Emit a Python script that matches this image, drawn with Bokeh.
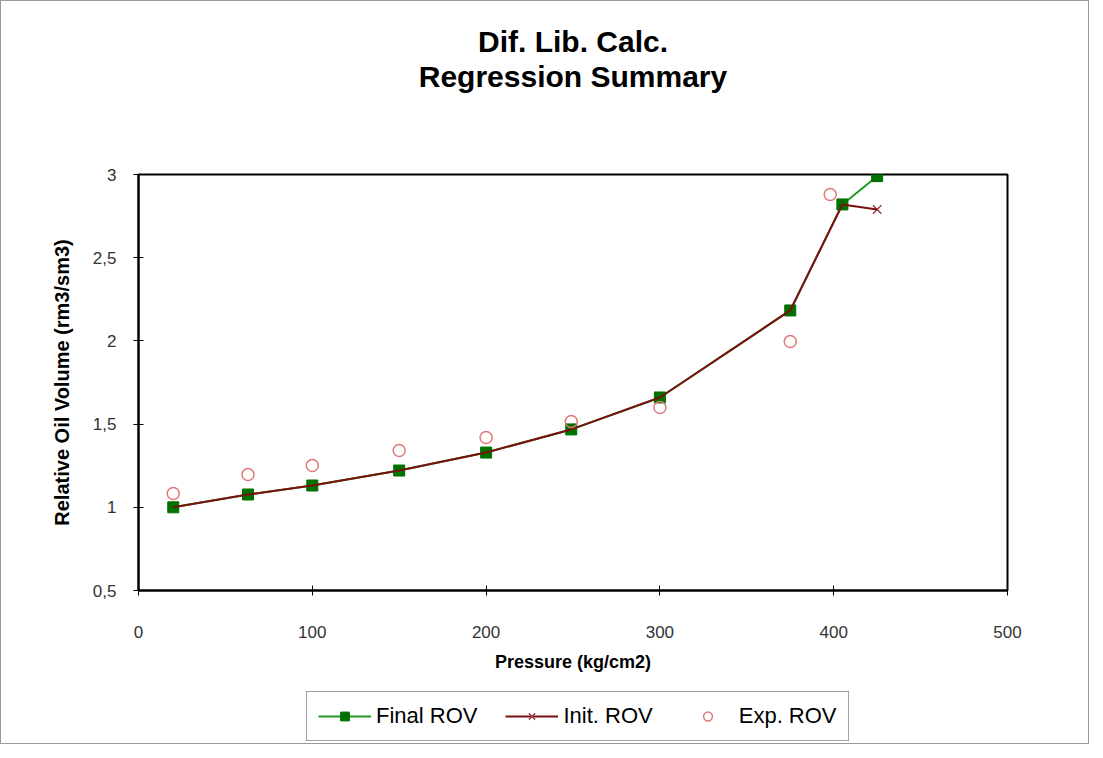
from bokeh.plotting import figure
from bokeh.layouts import column
from bokeh.models import (FixedTicker, Title, Legend, LegendItem, Range1d)
from bokeh.embed import file_html
from bokeh.resources import INLINE

# ---- data ----
pressure = [20, 63, 100, 150, 200, 249, 300, 375, 405, 425]
final_rov = [1.00, 1.077, 1.131, 1.221, 1.329, 1.468, 1.660, 2.183, 2.82, 2.99]
init_rov = [1.00, 1.077, 1.131, 1.221, 1.329, 1.468, 1.660, 2.183, 2.82, 2.79]
exp_pressure = [20, 63, 100, 150, 200, 249, 300, 375, 398]
exp_rov = [1.083, 1.197, 1.251, 1.341, 1.419, 1.516, 1.600, 1.996, 2.88]

x_ticks = [0, 100, 200, 300, 400, 500]
y_ticks = [0.5, 1, 1.5, 2, 2.5, 3]
y_tick_labels = {0.5: "0,5", 1: "1", 1.5: "1,5", 2: "2", 2.5: "2,5", 3: "3"}
series_names = ["Final ROV", "Init. ROV", "Exp. ROV"]

FONT = "Liberation Sans"
GREEN_LINE, GREEN_MARK = "#1f9a1f", "#007000"
RED_LINE, RED_MARK = "#7a1010", "#a04050"
PINK = "#e07878"

W = 1087
p = figure(width=W, height=680, output_backend="svg", toolbar_location=None,
           x_range=Range1d(0, 500), y_range=Range1d(0.5, 3))
p.min_border_left = 137
p.min_border_right = 81
p.min_border_top = 173
p.min_border_bottom = 91

p.title.visible = False
p.add_layout(Title(text=" ", text_font_size="30px", standoff=47), "above")
p.add_layout(Title(text="Regression Summary", align="center", text_font=FONT,
                   text_font_size="30px", text_font_style="bold", standoff=0,
                   text_color="black"), "above")
p.add_layout(Title(text="Dif. Lib. Calc.", align="center", text_font=FONT,
                   text_font_size="30px", text_font_style="bold", standoff=0,
                   text_color="black"), "above")

p.xgrid.visible = False
p.ygrid.visible = False
p.outline_line_color = "black"
p.outline_line_width = 2

for ax in (p.xaxis[0], p.yaxis[0]):
    ax.axis_line_width = 2
    ax.axis_line_color = "black"
    ax.major_tick_in = 5
    ax.major_tick_out = 5
    ax.major_tick_line_color = "black"
    ax.major_tick_line_width = 1
    ax.minor_tick_line_color = None
    ax.major_label_text_font = FONT
    ax.major_label_text_font_size = "17px"
    ax.major_label_text_color = "#333333"
    ax.axis_label_text_font = FONT
    ax.axis_label_text_font_style = "bold"
    ax.axis_label_text_color = "black"

p.xaxis.axis_label_text_font_size = "18px"
p.yaxis.axis_label_text_font_size = "20px"
p.xaxis.ticker = FixedTicker(ticks=x_ticks)
p.yaxis.ticker = FixedTicker(ticks=y_ticks)
p.yaxis.major_label_overrides = y_tick_labels
p.xaxis.axis_label = "Pressure (kg/cm2)"
p.yaxis.axis_label = "Relative Oil Volume (rm3/sm3)"
p.xaxis.major_label_standoff = 30
p.yaxis.major_label_standoff = 17
p.xaxis.axis_label_standoff = 11
p.yaxis.axis_label_standoff = 17

p.line(pressure, final_rov, line_color=GREEN_LINE, line_width=2)
p.scatter(pressure, init_rov, marker="x", size=12, line_color=RED_MARK,
          line_width=1.5)
p.scatter(pressure, final_rov, marker="square", size=11,
          fill_color=GREEN_MARK, line_color=GREEN_MARK)
p.line(pressure, init_rov, line_color=RED_LINE, line_width=2)
p.scatter(exp_pressure, exp_rov, marker="circle", size=12,
          fill_color=None, line_color=PINK, line_width=1.5)

# ---- legend strip (separate canvas below the chart; its ranges keep the
# series themselves out of view so only the legend swatches show) ----
lg = figure(width=W, height=62, output_backend="svg", toolbar_location=None,
            x_axis_location=None, y_axis_location=None,
            x_range=Range1d(-2, -1), y_range=Range1d(-2, -1))
lg.min_border = 0
lg.outline_line_color = None
lg.xgrid.visible = False
lg.ygrid.visible = False
fl = lg.line(pressure, final_rov, line_color=GREEN_LINE, line_width=2)
fm = lg.scatter(pressure, final_rov, marker="square", size=9,
                fill_color=GREEN_MARK, line_color=GREEN_MARK)
il = lg.line(pressure, init_rov, line_color=RED_LINE, line_width=2)
im = lg.scatter(pressure, init_rov, marker="x", size=10, line_color=RED_MARK,
                line_width=1.5)
em = lg.scatter(exp_pressure, exp_rov, marker="circle", size=8,
                fill_color=None, line_color=PINK, line_width=1.5)

legend = Legend(items=[
    LegendItem(label=series_names[0], renderers=[fl, fm]),
    LegendItem(label=series_names[1], renderers=[il, im]),
    LegendItem(label=series_names[2], renderers=[em]),
], orientation="horizontal", location=(168, 2))
legend.label_text_font = FONT
legend.label_text_font_size = "22px"
legend.label_text_color = "black"
legend.glyph_width = 53
legend.glyph_height = 22
legend.label_standoff = 5
legend.spacing = 28
legend.padding = 11
legend.margin = 0
legend.border_line_color = "#444444"
legend.border_line_width = 1
legend.background_fill_color = "white"
lg.add_layout(legend, "center")

layout = column(p, lg, spacing=0, styles={"border": "1px solid #9a9a9a"})
open("out.html", "w").write(file_html(layout, INLINE))
